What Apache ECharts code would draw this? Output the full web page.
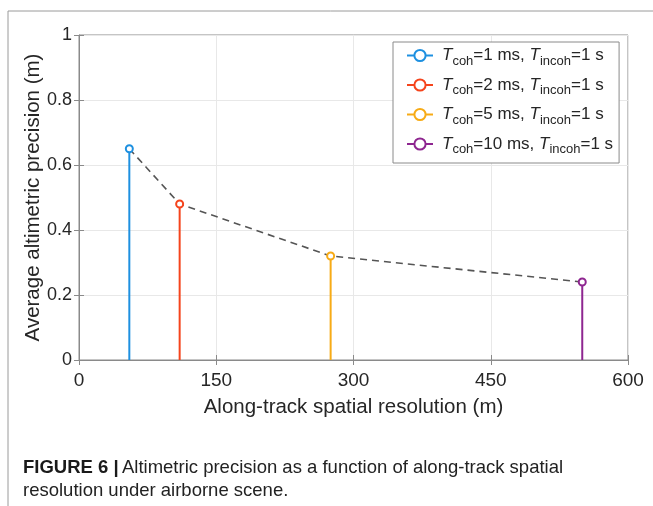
<!DOCTYPE html>
<html>
<head>
<meta charset="utf-8">
<script src="https://cdn.jsdelivr.net/npm/echarts@6/dist/echarts.min.js"></script>
<style>html,body{margin:0;padding:0;background:#fff;}#c{width:653px;height:506px;}</style>
</head>
<body>
<div id="c"></div>
<script>
const resolution = [55, 110, 275, 550];
const precision = [0.65, 0.48, 0.32, 0.24];
const cohTimes = ['1', '2', '5', '10'];
const colors = ['#1e90e0', '#f5441c', '#f7ab16', '#8e2690'];
const xTicks = [0, 150, 300, 450, 600];
const yTicks = [0, 0.2, 0.4, 0.6, 0.8, 1];

const FONT = '"Liberation Sans", Arial, sans-serif';
const chart = echarts.init(document.getElementById('c'), null, {renderer: 'canvas'});

const names = cohTimes.map(t => 'coh' + t);
const stemSeries = resolution.map((x, i) => ({
  name: names[i],
  type: 'line',
  data: [{value: [x, 0], symbol: 'none'}, [x, precision[i]]],
  symbol: 'emptyCircle',
  symbolSize: 7,
  showSymbol: true,
  showAllSymbol: true,
  lineStyle: {color: colors[i], width: 2},
  itemStyle: {color: colors[i], borderWidth: 2},
  z: 3,
  emphasis: {disabled: true}
}));

const option = {
  animation: false,
  backgroundColor: '#fff',
  grid: {left: 79, right: 25, top: 35, bottom: 146, show: true, borderColor: '#8a8a8a', borderWidth: 1},
  xAxis: [{
    type: 'value', min: xTicks[0], max: xTicks[xTicks.length - 1], interval: 150,
    name: 'Along-track spatial resolution (m)', nameLocation: 'middle', nameGap: 37,
    nameTextStyle: {fontFamily: FONT, fontSize: 20.5, color: '#262626'},
    axisLine: {show: true, lineStyle: {color: '#8a8a8a'}},
    axisTick: {show: true, inside: true, length: 5, lineStyle: {color: '#8a8a8a'}},
    axisLabel: {fontFamily: FONT, fontSize: 19, color: '#262626', margin: 11},
    splitLine: {show: true, lineStyle: {color: '#e8e8e8'}}
  }, {
    type: 'value', position: 'top', min: 0, max: 600, interval: 150,
    axisLine: {show: false}, axisLabel: {show: false}, splitLine: {show: false},
    axisTick: {show: true, inside: true, length: 5, lineStyle: {color: '#8a8a8a'}}
  }],
  yAxis: [{
    type: 'value', min: yTicks[0], max: yTicks[yTicks.length - 1], interval: 0.2,
    name: 'Average altimetric precision (m)', nameLocation: 'middle', nameGap: 35, nameRotate: 90,
    nameMoveOverlap: false,
    nameTextStyle: {fontFamily: FONT, fontSize: 20.5, color: '#262626'},
    axisLine: {show: true, lineStyle: {color: '#8a8a8a'}},
    axisTick: {show: true, inside: true, length: 5, lineStyle: {color: '#8a8a8a'}},
    axisLabel: {fontFamily: FONT, fontSize: 18, color: '#262626', margin: 7},
    splitLine: {show: true, lineStyle: {color: '#e8e8e8'}}
  }, {
    type: 'value', position: 'right', min: 0, max: 1, interval: 0.2,
    axisLine: {show: false}, axisLabel: {show: false}, splitLine: {show: false},
    axisTick: {show: true, inside: true, length: 5, lineStyle: {color: '#8a8a8a'}}
  }],
  legend: {
    orient: 'vertical',
    left: 393, top: 42,
    padding: [5, 6, 7, 13],
    itemGap: 9,
    itemWidth: 26, itemHeight: 14,
    backgroundColor: '#fff',
    borderColor: '#8a8a8a', borderWidth: 1,
    data: names,
    formatter: function (n) {
      const t = n.slice(3);
      return '{i0|T}{s|coh}{r|=' + t + ' ms, }{i|T}{s|incoh}{r|=1 s}';
    },
    textStyle: {
      fontFamily: FONT, fontSize: 17, color: '#262626',
      rich: {
        i0: {fontFamily: FONT, fontSize: 17, fontStyle: 'italic', color: '#262626', height: 20, padding: [0, 0, 0, 4]},
        i: {fontFamily: FONT, fontSize: 17, fontStyle: 'italic', color: '#262626', height: 20},
        r: {fontFamily: FONT, fontSize: 17, color: '#262626', height: 20},
        s: {fontFamily: FONT, fontSize: 13, color: '#262626', padding: [11, 0, 0, 0]}
      }
    }
  },
  graphic: [
    {type: 'line', shape: {x1: 8, y1: 11, x2: 653, y2: 11}, style: {stroke: '#9a9a9a', lineWidth: 1}},
    {type: 'line', shape: {x1: 8, y1: 11, x2: 8, y2: 506}, style: {stroke: '#9a9a9a', lineWidth: 1}},
    {type: 'text', left: 23, top: 458, style: {
      text: '{b|FIGURE 6 |} {n|Altimetric precision as a function of along-track spatial}',
      rich: {
        b: {fontFamily: FONT, fontSize: 18.5, fontWeight: 'bold', fill: '#1a1a1a'},
        n: {fontFamily: FONT, fontSize: 18.5, fill: '#222'}
      }
    }},
    {type: 'text', left: 23, top: 481, style: {
      text: 'resolution under airborne scene.', fontFamily: FONT, fontSize: 18.5, fill: '#222'
    }}
  ],
  series: [{
    name: 'trend',
    type: 'line',
    data: resolution.map((x, i) => [x, precision[i]]),
    symbol: 'none',
    lineStyle: {color: '#555', width: 1.6, type: [7, 5]},
    z: 2,
    silent: true
  }].concat(stemSeries)
};
chart.setOption(option);
</script>
</body>
</html>
